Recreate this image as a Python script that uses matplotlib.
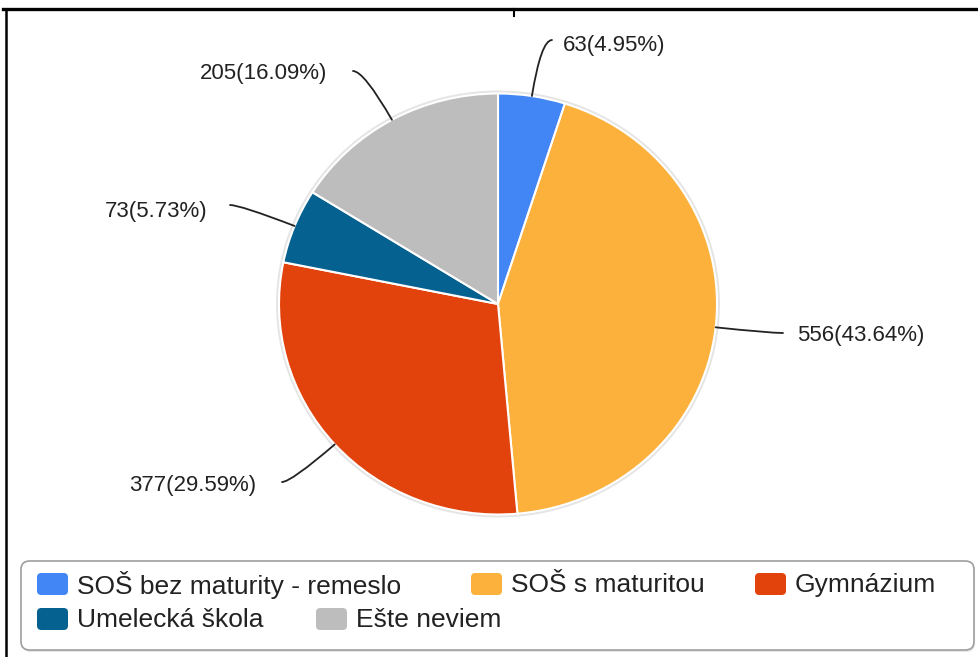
import numpy as np
import matplotlib.pyplot as plt
from matplotlib.patches import FancyBboxPatch, Ellipse
from matplotlib.lines import Line2D

# data
categories = ['SOŠ bez maturity - remeslo', 'SOŠ s maturitou', 'Gymnázium',
              'Umelecká škola', 'Ešte neviem']
counts = [63, 556, 377, 73, 205]
percents = ['4.95', '43.64', '29.59', '5.73', '16.09']
colors = ['#4285F4', '#FBB13C', '#E2430D', '#05618F', '#BDBDBD']

W, H = 979, 657
CX, CY, RX, RY = 498, 304, 219, 210.5   # pie centre / radii in pixels

def px(x, y):
    '''pixel position -> data coords of the full-figure axes'''
    return (x - CX) / RX, (CY - y) / RY

plt.rcParams['font.family'] = ['Liberation Sans', 'DejaVu Sans']
fig = plt.figure(figsize=(W / 100, H / 100), dpi=100)
ax = fig.add_axes([0, 0, 1, 1])

# faint shadow round the pie
ax.add_patch(Ellipse((0, 0), 2 + 6 / RX, 2 + 6 / RY, facecolor='#000000',
                     alpha=0.10, edgecolor='none', zorder=0))
wedges, _ = ax.pie(counts, colors=colors, startangle=90, counterclock=False,
                   wedgeprops=dict(edgecolor='white', linewidth=1.5))
ax.set_aspect('auto')
ax.set_xlim(-CX / RX, (W - CX) / RX)
ax.set_ylim((CY - H) / RY, CY / RY)
ax.axis('off')

# leader line end (pixels) and text anchor for each slice
line_ends = [(552, 40), (783, 333), (282, 482), (230, 205), (353, 71)]
text_pos = [(563, 45, 'left'), (797, 335, 'left'), (256, 485, 'right'),
            (207, 211, 'right'), (327, 74, 'right')]

for w, c, p, le, tp in zip(wedges, counts, percents, line_ends, text_pos):
    mid = np.deg2rad((w.theta1 + w.theta2) / 2)
    edge = (np.cos(mid), np.sin(mid))
    angB = np.degrees(np.arctan2(np.sin(mid) * RY, np.cos(mid) * RX))
    ax.annotate('', xy=edge, xytext=px(*le),
                arrowprops=dict(arrowstyle='-', color='#222222', lw=1.3,
                                shrinkA=0, shrinkB=0,
                                connectionstyle=f'angle3,angleA=0,angleB={angB:.1f}'))
    ax.text(*px(tp[0], tp[1]), f'{c}({p}%)', ha=tp[2], va='center',
            fontsize=16, color='#222222')

# legend (flow layout, drawn by hand)
ax.add_patch(FancyBboxPatch(px(22, 652), 953 / RX, 89 / RY,
                            boxstyle='round,pad=0,rounding_size=0.04',
                            facecolor='#E6E6E6', edgecolor='none'))
leg_box = FancyBboxPatch(px(21, 650), 953 / RX, 89 / RY,
                         boxstyle='round,pad=0,rounding_size=0.04',
                         facecolor='white', edgecolor='#9E9E9E', lw=1.2)
ax.add_patch(leg_box)
swatch_x = [37, 471, 755, 37, 316]
swatch_y = [584, 584, 584, 619, 619]
for name, col, sx, sy in zip(categories, colors, swatch_x, swatch_y):
    sw = FancyBboxPatch(px(sx, sy + 11), 31 / RX, 22 / RY,
                        boxstyle='round,pad=0,rounding_size=0.02',
                        facecolor=col, edgecolor='none')
    ax.add_patch(sw)
    ax.text(*px(sx + 40, sy + 1), name, ha='left', va='center',
            fontsize=19, color='#222222')

# black frame remnants of the screenshot
fig.add_artist(Line2D([3 / W, 1], [1 - 9 / H, 1 - 9 / H], color='black', lw=2.4))
fig.add_artist(Line2D([6 / W, 6 / W], [0, 1 - 9 / H], color='black', lw=1.8))
fig.add_artist(Line2D([514 / W, 514 / W], [1 - 9 / H, 1 - 16 / H], color='black', lw=1.5))

fig.savefig('out.png', dpi=100)
